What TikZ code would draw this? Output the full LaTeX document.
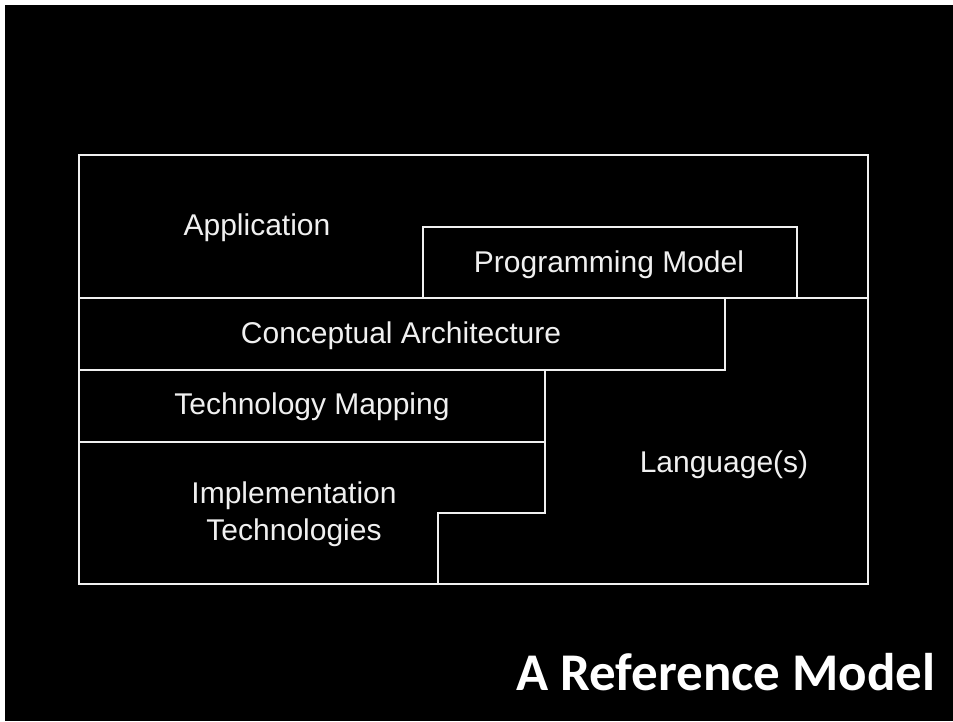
\documentclass[tikz,border=0pt]{standalone}
\usepackage{fontspec}
\setmainfont{Liberation Sans}
\newfontfamily\titlefont{Carlito}
\begin{document}
\begin{tikzpicture}[x=1pt,y=-1pt,
  wline/.style={draw=white!94!black,line width=2.4pt,line join=miter},
  lbl/.style={text=white!94!black,font=\fontsize{30}{37}\selectfont,anchor=base,inner sep=0pt,align=center},
  ttl/.style={text=white,font=\titlefont\bfseries\fontsize{53}{60}\selectfont,anchor=base,inner sep=0pt}]
\useasboundingbox (0,0) rectangle (953,721);
\fill[white] (0,0) rectangle (953,721);
\fill[black] (5,5) rectangle (953,721);
% frame and layers
\draw[wline] (79,155) rectangle (868,584);
\draw[wline] (79,298) -- (868,298);
\draw[wline] (423,298) -- (423,227) -- (797,227) -- (797,298);
\draw[wline] (79,370) -- (725,370) -- (725,298);
\draw[wline] (79,442) -- (545,442);
\draw[wline] (545,370) -- (545,513) -- (438,513) -- (438,584);
% labels
\node[lbl] (app) at (257,235) {Application};
\node[lbl] (pm) at (609,272) {Programming Model};
\node[lbl] (ca) at (401,343) {Conceptual Architecture};
\node[lbl] (tm) at (312,414) {Technology Mapping};
\node[lbl] (it1) at (294,503) {Implementation};
\node[lbl] (it2) at (294,540) {Technologies};
\node[lbl] (lang) at (724,472) {Language(s)};
\node[ttl] (title) at (726,690) {A Reference Model};
\end{tikzpicture}
\end{document}
